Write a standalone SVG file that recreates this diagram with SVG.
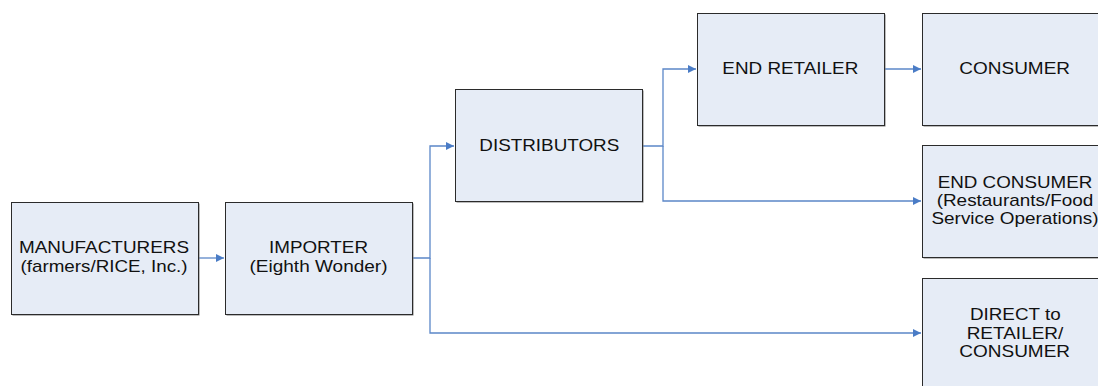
<svg xmlns="http://www.w3.org/2000/svg" width="1098" height="386" viewBox="0 0 1098 386">
  <style>
    .shadow { fill: #7a7a7a; }
    .box { fill: #e6ecf6; stroke: #2b2b2b; stroke-width: 1; }
    .label { font-family: "Liberation Sans", Arial, sans-serif; font-size: 17px; fill: #111; text-anchor: middle; }
    .link { fill: none; stroke: #5b87c8; stroke-width: 1.3; }
  </style>
  <defs>
    <marker id="arrow" viewBox="0 0 10 10" refX="10" refY="5" markerWidth="8" markerHeight="8" markerUnits="userSpaceOnUse" orient="auto">
      <path d="M0,0 L10,5 L0,10 z" fill="#4a7cc6"/>
    </marker>
  </defs>

  <rect width="1098" height="386" fill="#ffffff"/>

  <!-- connectors -->
  <g id="connectors">
    <path class="link" d="M198,258 H224" marker-end="url(#arrow)"/>
    <path class="link" d="M412,258 H430 V146 H454" marker-end="url(#arrow)"/>
    <path class="link" d="M430,258 V333 H921" marker-end="url(#arrow)"/>
    <path class="link" d="M643,146 H663 V69 H696" marker-end="url(#arrow)"/>
    <path class="link" d="M663,146 V201 H921" marker-end="url(#arrow)"/>
    <path class="link" d="M884,69 H921" marker-end="url(#arrow)"/>
  </g>

  <g id="manufacturers">
    <rect class="shadow" x="12.5" y="203.5" width="187" height="112"/>
    <rect class="box" x="11.5" y="202.5" width="187" height="112"/>
    <text class="label" x="104" y="253.3" textLength="170" lengthAdjust="spacingAndGlyphs">MANUFACTURERS</text>
    <text class="label" x="104" y="271.5" textLength="167" lengthAdjust="spacingAndGlyphs">(farmers/RICE, Inc.)</text>
  </g>

  <g id="importer">
    <rect class="shadow" x="226.5" y="203.5" width="187" height="112"/>
    <rect class="box" x="225.5" y="202.5" width="187" height="112"/>
    <text class="label" x="318.5" y="253.3" textLength="99" lengthAdjust="spacingAndGlyphs">IMPORTER</text>
    <text class="label" x="318.5" y="271.5" textLength="138" lengthAdjust="spacingAndGlyphs">(Eighth Wonder)</text>
  </g>

  <g id="distributors">
    <rect class="shadow" x="456.5" y="90.5" width="187" height="112"/>
    <rect class="box" x="455.5" y="89.5" width="187" height="112"/>
    <text class="label" x="549.3" y="150.7" textLength="140" lengthAdjust="spacingAndGlyphs">DISTRIBUTORS</text>
  </g>

  <g id="end-retailer">
    <rect class="shadow" x="698.5" y="14.5" width="187" height="112"/>
    <rect class="box" x="697.5" y="13.5" width="187" height="112"/>
    <text class="label" x="790.3" y="74" textLength="136" lengthAdjust="spacingAndGlyphs">END RETAILER</text>
  </g>

  <g id="consumer">
    <rect class="shadow" x="923.5" y="14.5" width="187" height="112"/>
    <rect class="box" x="922.5" y="13.5" width="187" height="112"/>
    <text class="label" x="1014.7" y="74" textLength="110.7" lengthAdjust="spacingAndGlyphs">CONSUMER</text>
  </g>

  <g id="end-consumer">
    <rect class="shadow" x="923.5" y="146.5" width="187" height="112"/>
    <rect class="box" x="922.5" y="145.5" width="187" height="112"/>
    <text class="label" x="1015" y="187.7" textLength="154.7" lengthAdjust="spacingAndGlyphs">END CONSUMER</text>
    <text class="label" x="1015" y="205.9" textLength="156.7" lengthAdjust="spacingAndGlyphs">(Restaurants/Food</text>
    <text class="label" x="1015" y="224.3" textLength="167" lengthAdjust="spacingAndGlyphs">Service Operations)</text>
  </g>

  <g id="direct">
    <rect class="shadow" x="923.5" y="279.5" width="187" height="112"/>
    <rect class="box" x="922.5" y="278.5" width="187" height="112"/>
    <text class="label" x="1015.3" y="320" textLength="90.7" lengthAdjust="spacingAndGlyphs">DIRECT to</text>
    <text class="label" x="1015" y="338.7" textLength="96.7" lengthAdjust="spacingAndGlyphs">RETAILER/</text>
    <text class="label" x="1014.7" y="357.3" textLength="110.7" lengthAdjust="spacingAndGlyphs">CONSUMER</text>
  </g>
</svg>
